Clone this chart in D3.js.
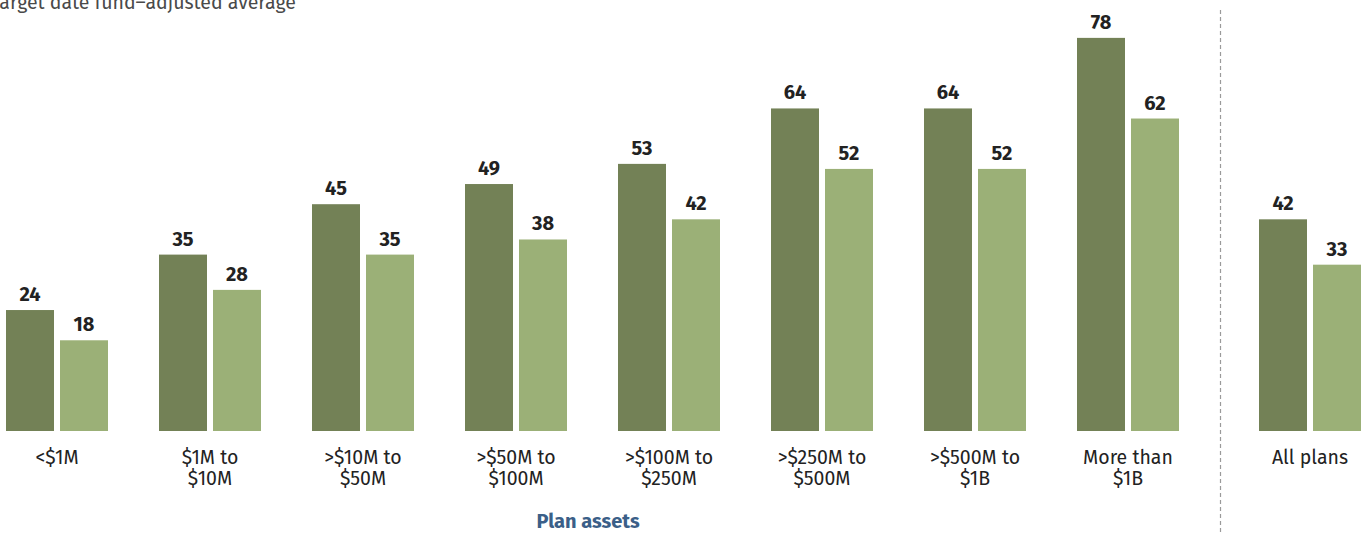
<!DOCTYPE html>
<html><head><meta charset="utf-8">
<script src="https://cdn.jsdelivr.net/npm/d3@7"></script>
<style>
html,body{margin:0;padding:0;background:#fff;overflow:hidden;}
svg{display:block;font-family:"Fira Sans",Roboto,"Noto Sans",sans-serif;}
</style></head>
<body>
<svg id="chart" width="1364" height="533"></svg>
<script>
const categories = ["<$1M", "$1M to\n$10M", ">$10M to\n$50M", ">$50M to\n$100M", ">$100M to\n$250M", ">$250M to\n$500M", ">$500M to\n$1B", "More than\n$1B"];
const totalCategory = ["All plans"];
const seriesNames = ["Simple average", "Target date fund–adjusted average"];
const simpleAvg = [24, 35, 45, 49, 53, 64, 64, 78];
const tdfAdjusted = [18, 28, 35, 38, 42, 52, 52, 62];
const allPlansSimple = [42];
const allPlansTdf = [33];
const axisTitle = "Plan assets";
const legendText = "Target date fund–adjusted average";

const colors = {"Simple average": "#738156", "Target date fund–adjusted average": "#9bb077"};

const svg = d3.select("#chart");

const rows = categories.map((c, i) => ({cat: c, vals: [simpleAvg[i], tdfAdjusted[i]]}));
const totalRows = totalCategory.map((c, i) => ({cat: c, vals: [allPlansSimple[i], allPlansTdf[i]]}));

const y = d3.scaleLinear().domain([0, 80]).range([431, 431 - 80 * 5.04]);
const x0 = d3.scaleBand().domain(categories).range([-19.5, 1204.5]).padding(0);
const xT = d3.scaleBand().domain(totalCategory).range([1233.5, 1386.5]).padding(0);
const bw = x0.bandwidth();
const x1 = d3.scaleBand().domain(seriesNames).range([bw / 2 - 51, bw / 2 + 51]).paddingInner(6 / 54);

// legend fragment (cropped at top-left, as in the reference)
svg.append("text").attr("x", 296).attr("y", 9).attr("text-anchor", "end")
  .attr("font-size", 19.5).attr("fill", "#4a4a4a").text(legendText);

// divider
svg.append("line").attr("x1", 1220.5).attr("x2", 1220.5).attr("y1", 10).attr("y2", 533)
  .attr("stroke", "#9a9a9a").attr("stroke-width", 1.2).attr("stroke-dasharray", "4,3");

function drawGroups(data, xs) {
  const g = svg.append("g").selectAll("g").data(data).join("g")
    .attr("transform", d => `translate(${xs(d.cat)},0)`);
  const bars = g.selectAll("g.bar").data(d => d.vals.map((v, j) => ({name: seriesNames[j], v})))
    .join("g").attr("class", "bar");
  bars.append("rect")
    .attr("x", d => x1(d.name)).attr("width", x1.bandwidth())
    .attr("y", d => y(d.v)).attr("height", d => y(0) - y(d.v))
    .attr("fill", d => colors[d.name]);
  bars.append("text")
    .attr("x", d => x1(d.name) + x1.bandwidth() / 2)
    .attr("y", d => y(d.v) - 9)
    .attr("text-anchor", "middle").attr("font-size", 20).attr("font-weight", 700)
    .attr("fill", "#222").text(d => d.v);
  const lab = g.append("text").attr("text-anchor", "middle").attr("font-size", 19.5).attr("fill", "#222");
  lab.selectAll("tspan").data(d => d.cat.split("\n")).join("tspan")
    .attr("x", bw / 2).attr("y", (d, i) => 463.5 + i * 21.5).text(d => d);
}
drawGroups(rows, x0);
drawGroups(totalRows, xT);

svg.append("text").attr("x", 588).attr("y", 528).attr("text-anchor", "middle")
  .attr("font-size", 20).attr("font-weight", 700).attr("fill", "#3b5f88").text(axisTitle);
</script>
</body></html>
